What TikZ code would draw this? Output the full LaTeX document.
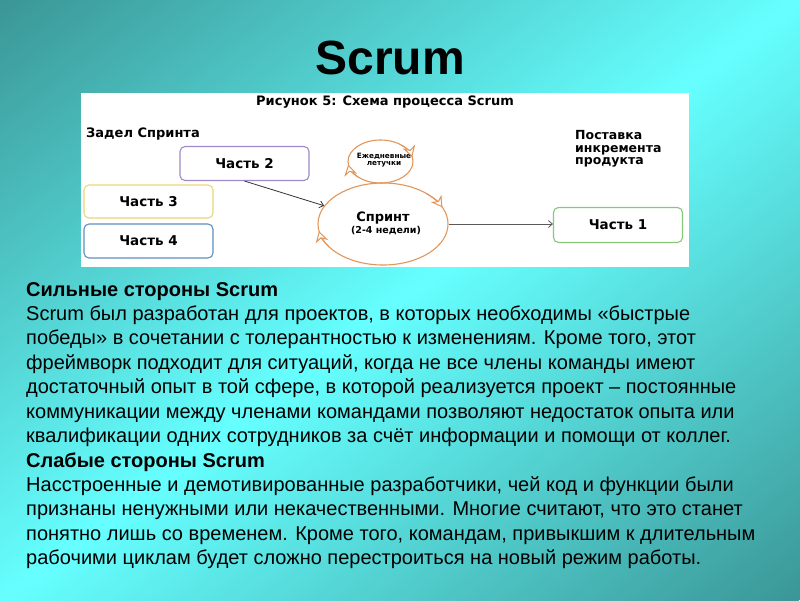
\documentclass[tikz,border=0pt]{standalone}
\usepackage{fontspec}
\setmainfont{Liberation Sans}
\newfontfamily\dvfont{DejaVu Sans}
\usetikzlibrary{arrows.meta,shapes.geometric,calc}
\definecolor{bgdark}{HTML}{3B9696}
\definecolor{bgbright}{HTML}{66FFFF}
\definecolor{orangeC}{HTML}{E3965A}
\definecolor{purpleC}{HTML}{A089C8}
\definecolor{yellowC}{HTML}{E8D878}
\definecolor{blueC}{HTML}{5E90C2}
\definecolor{greenC}{HTML}{86C878}
\tikzset{
  part/.style={draw, rounded corners=5pt, line width=1.1pt, minimum width=129pt,
    minimum height=34pt, inner sep=0pt, fill=white,
    font=\dvfont\bfseries\fontsize{13.5}{15}\selectfont},
  dlabel/.style={inner sep=0pt, font=\dvfont\bfseries\fontsize{13}{15}\selectfont},
  cyc/.style={draw=orangeC, line width=1.1pt, ellipse, inner sep=0pt},
  cyctip/.style={draw=orangeC, line width=1pt,
    -{Stealth[length=11pt,width=13pt,inset=3.5pt,fill=white]}},
  conn/.style={draw=black!80, line width=0.8pt, -{Straight Barb[length=4pt,width=7pt]}},
  body/.style={anchor=base west, inner sep=0pt, font=\fontsize{20}{23}\selectfont},
  bodyb/.style={body, font=\bfseries\fontsize{20}{23}\selectfont},
}
\begin{document}
\begin{tikzpicture}[x=1pt,y=-1pt]
\useasboundingbox (0,0) rectangle (800,600);
\begin{scope}
\clip (0,0) rectangle (800,600);
\begin{scope}[transform canvas={shift={(400,300)}, rotate=37}]
\shade[top color=bgdark, bottom color=bgdark, middle color=bgbright]
  (-700,-480) rectangle (700,480);
\end{scope}
\end{scope}
% title
\node[inner sep=0pt, font=\bfseries\fontsize{48}{52}\selectfont] (title) at (390,58) {Scrum};
% diagram panel
\fill[white] (81,93) rectangle (689,267);
\node[dlabel] (fig) at (385,102) {Рисунок 5: Схема процесса Scrum};
\node[dlabel, anchor=west] (zadel) at (86,134) {Задел Спринта};
\node[part, draw=purpleC] (p2) at (244.5,163.5) {Часть 2};
\node[part, draw=yellowC, minimum height=33pt] (p3) at (148.5,201.5) {Часть 3};
\node[part, draw=blueC] (p4) at (148.5,241) {Часть 4};
\node[part, draw=greenC, minimum height=35pt] (p1) at (618,225) {Часть 1};
\node[dlabel, anchor=north west, align=left, font=\dvfont\bfseries\fontsize{12.5}{12.8}\selectfont]
  (deliv) at (575,130) {Поставка\\инкремента\\продукта};
% cycles
\node[cyc, minimum width=65pt, minimum height=43pt] (daily) at (380.5,161.5) {};
\node[cyc, minimum width=130pt, minimum height=82pt] (sprint) at (383,224) {};
\node[dlabel, font=\dvfont\bfseries\fontsize{7.3}{7.3}\selectfont, align=center] (dailyT) at (384,160) {Ежедневные\\летучки};
\node[dlabel] (sprintT) at (383,218) {Спринт};
\node[dlabel, font=\dvfont\bfseries\fontsize{9.5}{11}\selectfont] (sprintD) at (386,230.5) {(2-4 недели)};
% cycle arrow tips
\draw[cyctip] ($(sprint.center)+(-48:65 and 41)$) arc[start angle=-48, end angle=-24, x radius=65, y radius=41];
\draw[cyctip] ($(sprint.center)+(146:65 and 41)$) arc[start angle=146, end angle=170, x radius=65, y radius=41];
\draw[cyctip] ($(daily.center)+(-50:32.5 and 21.5)$) arc[start angle=-50, end angle=-12, x radius=32.5, y radius=21.5];
\draw[cyctip] ($(daily.center)+(134:32.5 and 21.5)$) arc[start angle=134, end angle=172, x radius=32.5, y radius=21.5];
% connectors
\draw[conn] (p2.south) -- (sprint);
\draw[conn, draw=black!65] (sprint.east) -- (sprint.east -| p1.west);
% body text
\node[bodyb] (s1) at (26,296) {Сильные стороны Scrum};
\node[body] (s2) at (26,320.4) {Scrum был разработан для проектов, в которых необходимы «быстрые};
\node[body] (s3) at (26,344.8) {победы» в сочетании с толерантностью к изменениям. Кроме того, этот};
\node[body] (s4) at (26,369.2) {фреймворк подходит для ситуаций, когда не все члены команды имеют};
\node[body] (s5) at (26,393.6) {достаточный опыт в той сфере, в которой реализуется проект – постоянные};
\node[body] (s6) at (26,418) {коммуникации между членами командами позволяют недостаток опыта или};
\node[body] (s7) at (26,442.4) {квалификации одних сотрудников за счёт информации и помощи от коллег.};
\node[bodyb] (w1) at (26,467) {Слабые стороны Scrum};
\node[body] (w2) at (26,491.4) {Насстроенные и демотивированные разработчики, чей код и функции были};
\node[body] (w3) at (26,515.8) {признаны ненужными или некачественными. Многие считают, что это станет};
\node[body] (w4) at (26,540.2) {понятно лишь со временем. Кроме того, командам, привыкшим к длительным};
\node[body] (w5) at (26,564.6) {рабочими циклам будет сложно перестроиться на новый режим работы.};
\end{tikzpicture}
\end{document}
